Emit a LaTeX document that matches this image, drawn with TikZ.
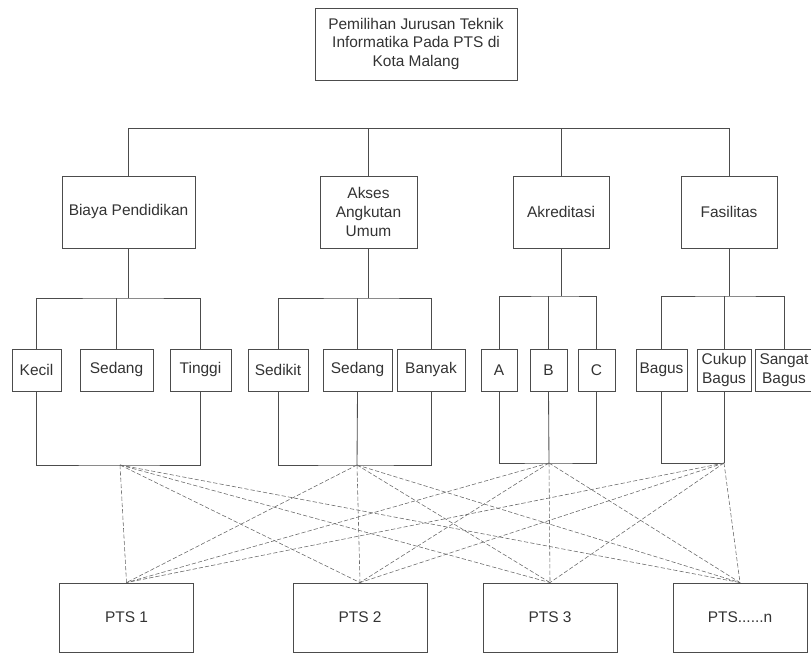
\documentclass[tikz,border=0pt]{standalone}
\usepackage{fontspec}
\setmainfont{Liberation Sans}
\begin{document}
\begin{tikzpicture}[transform shape,
	box/.style={shape=rectangle, draw=black!70, line width=0.6pt, align=center, text=black!80, inner sep=1pt, font=\fontsize{11}{13.5}\selectfont},
	wire/.style={draw=black!70, line width=0.6pt},
	crossline/.style={draw=black!60, line width=0.4pt, dash pattern=on 3pt off 1.5pt}]
	\useasboundingbox (0,0) rectangle (20.275,16.35);
	% Nodes:
	\node[box, minimum width=5.05cm, minimum height=1.8cm] (goal) at (10.4, 15.25){Pemilihan Jurusan Teknik\\Informatika Pada PTS di\\Kota Malang};
	\node[box, minimum width=3.325cm, minimum height=1.8cm] (biaya) at (3.2125, 11.05){Biaya Pendidikan};
	\node[box, minimum width=2.425cm, minimum height=1.8cm] (akses) at (9.2125, 11.05){Akses\\Angkutan\\Umum};
	\node[box, minimum width=2.4cm, minimum height=1.8cm] (akred) at (14.025, 11.05){Akreditasi};
	\node[box, minimum width=2.4cm, minimum height=1.8cm] (fasil) at (18.225, 11.05){Fasilitas};
	\node[box, minimum width=1.225cm, minimum height=1.05cm] (kecil) at (0.9125, 7.1){Kecil};
	\node[box, minimum width=1.825cm, minimum height=1.05cm] (sedangb) at (2.9125, 7.1){Sedang};
	\node[box, minimum width=1.525cm, minimum height=1.05cm] (tinggi) at (5.0125, 7.1){Tinggi};
	\node[box, minimum width=1.5cm, minimum height=1.05cm] (sedikit) at (6.95, 7.1){Sedikit};
	\node[box, minimum width=1.725cm, minimum height=1.05cm] (sedanga) at (8.9375, 7.1){Sedang};
	\node[box, minimum width=1.7cm, minimum height=1.05cm] (banyak) at (10.775, 7.1){Banyak};
	\node[box, minimum width=0.9cm, minimum height=1.05cm] (a) at (12.475, 7.1){A};
	\node[box, minimum width=0.925cm, minimum height=1.05cm] (b) at (13.7125, 7.1){B};
	\node[box, minimum width=0.925cm, minimum height=1.05cm] (c) at (14.9125, 7.1){C};
	\node[box, minimum width=1.275cm, minimum height=1.05cm] (bagus) at (16.5375, 7.1){Bagus};
	\node[box, minimum width=1.35cm, minimum height=1.05cm] (cukup) at (18.1, 7.1){Cukup\\Bagus};
	\node[box, minimum width=1.45cm, minimum height=1.05cm] (sangat) at (19.6, 7.1){Sangat\\Bagus};
	\node[box, minimum width=3.35cm, minimum height=1.725cm] (pts1) at (3.1625, 0.9125){PTS 1};
	\node[box, minimum width=3.35cm, minimum height=1.725cm] (pts2) at (9.0, 0.9125){PTS 2};
	\node[box, minimum width=3.35cm, minimum height=1.725cm] (pts3) at (13.75, 0.9125){PTS 3};
	\node[box, minimum width=3.35cm, minimum height=1.725cm] (ptsn) at (18.5, 0.9125){PTS......n};
	% Bars and junctions:
	\coordinate (rootbar) at (10.4, 13.15);
	\coordinate (barB) at (3.2, 8.9);
	\coordinate (barA) at (9.2, 8.9);
	\coordinate (barK) at (14.05, 8.95);
	\coordinate (barF) at (18.2, 8.95);
	\coordinate (jB) at (3.0, 4.725);
	\coordinate (jA) at (8.925, 4.725);
	\coordinate (jK) at (13.725, 4.775);
	\coordinate (jF) at (18.1, 4.775);
	% Wires:
	\draw[wire] (biaya.north) |- (rootbar) -| (fasil.north);
	\draw[wire] (akses.north) -- (akses.north |- rootbar);
	\draw[wire] (akred.north) -- (akred.north |- rootbar);
	\draw[wire] (biaya.south) -- (biaya.south |- barB);
	\draw[wire] (kecil.north) |- (barB) -| (tinggi.north);
	\draw[wire] (sedangb.north) -- (sedangb.north |- barB);
	\draw[wire] (akses.south) -- (akses.south |- barA);
	\draw[wire] (sedikit.north) |- (barA) -| (banyak.north);
	\draw[wire] (sedanga.north) -- (sedanga.north |- barA);
	\draw[wire] (akred.south) -- (akred.south |- barK);
	\draw[wire] (a.north) |- (barK) -| (c.north);
	\draw[wire] (b.north) -- (b.north |- barK);
	\draw[wire] (fasil.south) -- (fasil.south |- barF);
	\draw[wire] (bagus.north) |- (barF) -| (sangat.north);
	\draw[wire] (cukup.north) -- (cukup.north |- barF);
	\draw[wire] (kecil.south) |- (jB) -| (tinggi.south);
	\draw[wire] (sedikit.south) |- (jA) -| (banyak.south);
	\draw[wire] (sedanga.south) -- (jA);
	\draw[wire] (a.south) |- (jK) -| (c.south);
	\draw[wire] (b.south) -- (jK);
	\draw[wire] (bagus.south) |- (jF);
	\draw[wire] (cukup.south) -- (jF);
	% Crossing lines:
	\foreach \g in {jB, jA, jK, jF}
		\foreach \p in {pts1, pts2, pts3, ptsn}
			\draw[crossline] (\g) -- (\p.north);
\end{tikzpicture}
\end{document}
